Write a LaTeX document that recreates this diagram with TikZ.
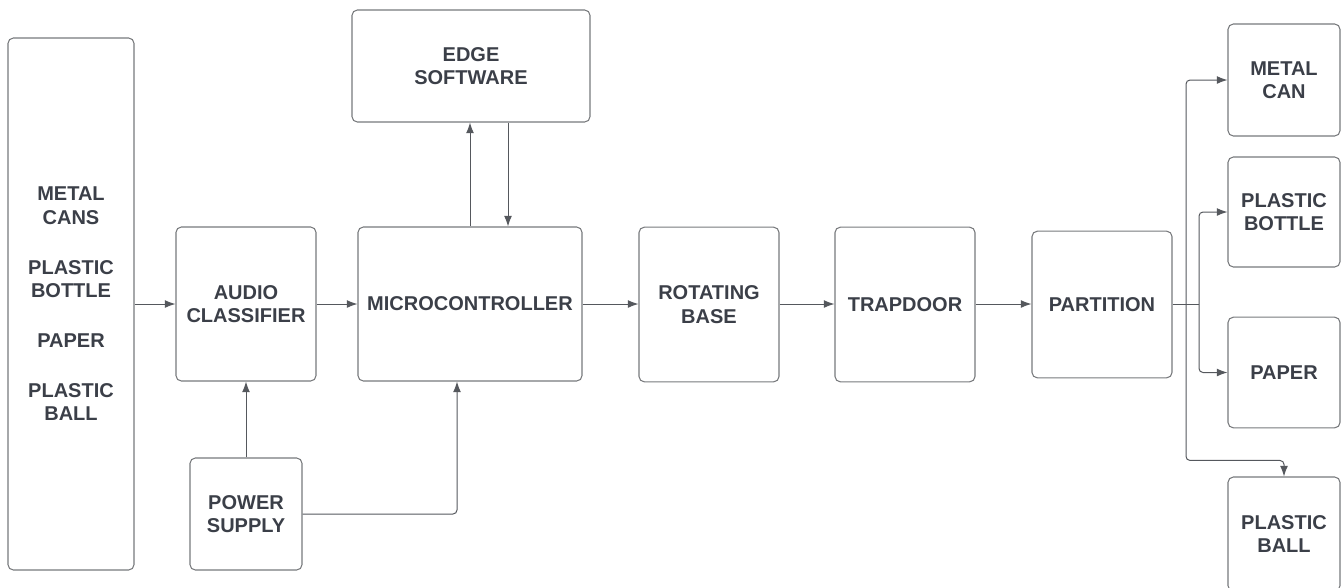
\documentclass[tikz,border=0pt]{standalone}
\usepackage{fontspec}
\setmainfont{Liberation Sans}
\usepackage{xcolor}
\usetikzlibrary{positioning, arrows.meta, calc}

\definecolor{boxgray}{HTML}{77797C}
\definecolor{linegray}{HTML}{55585D}
\definecolor{txtgray}{HTML}{3B3F48}

\begin{document}
\begin{tikzpicture}[x=0.75pt, y=-0.75pt,
    blk/.style={draw=boxgray, line width=0.8pt, rounded corners=4pt, inner sep=0pt,
        align=center, text=txtgray, font=\fontsize{15}{17.5}\selectfont\bfseries},
    line/.style={draw=linegray, line width=0.75pt, rounded corners=3pt},
    arr/.style={line, -{Latex[length=8pt, width=6pt]}}]

        \useasboundingbox (0,0) rectangle (1342,587);

        % Input Box
        \node[blk, minimum width=94.5pt, minimum height=399pt] (inp) at (71,304)
            {METAL\\CANS\\[20pt]PLASTIC\\BOTTLE\\[20pt]PAPER\\[20pt]PLASTIC\\BALL};

        % Main Chain
        \node[blk, minimum width=105pt, minimum height=115.5pt] (aud) at (246,304) {AUDIO\\CLASSIFIER};
        \node[blk, minimum width=84pt, minimum height=84pt] (pwr) at (246,514) {POWER\\SUPPLY};
        \node[blk, minimum width=168pt, minimum height=115.5pt] (mcu) at (470,304) {MICROCONTROLLER};
        \node[blk, minimum width=178.5pt, minimum height=84pt] (edge) at (471,66) {EDGE\\SOFTWARE};
        \node[blk, minimum width=105pt, minimum height=116pt] (rot) at (709,304.5) {ROTATING\\BASE};
        \node[blk, minimum width=105pt, minimum height=116pt] (trap) at (905,304.5) {TRAPDOOR};
        \node[blk, minimum width=105pt, minimum height=110pt] (part) at (1102,304.5) {PARTITION};

        % Output Bins
        \node[blk, minimum width=84pt, minimum height=84pt] (can) at (1284,80) {METAL\\CAN};
        \node[blk, minimum width=84pt, minimum height=82.5pt] (bot) at (1284,212) {PLASTIC\\BOTTLE};
        \node[blk, minimum width=84pt, minimum height=83pt] (pap) at (1284,372.5) {PAPER};
        \node[blk, minimum width=84pt, minimum height=85.5pt] (ball) at (1284,534) {PLASTIC\\BALL};

        % Flow Arrows
        \draw[arr] (inp.east |- aud.west) -- (aud.west);
        \draw[arr] (aud.east) -- (mcu.west);
        \draw[arr] (mcu.east) -- (rot.west |- mcu.east);
        \draw[arr] (rot.east |- mcu.east) -- (trap.west |- mcu.east);
        \draw[arr] (trap.east |- mcu.east) -- (part.west |- mcu.east);

        % Edge Software Link
        \draw[arr] (mcu.north) -- (mcu.north |- edge.south);
        \coordinate (dn) at ($(edge.south)+(37,0)$);
        \draw[arr] (dn) -- (dn |- mcu.north);

        % Power Lines
        \draw[arr] (pwr.north) -- (aud.south);
        \draw[arr] (pwr.east) -| ($(mcu.south)+(-13,0)$);

        % Partition Fan-out
        \coordinate (j1) at (1186,304);
        \coordinate (j2) at (1199,304);
        \draw[line] (part.east |- j1) -- (j2);
        \draw[arr] (j1) |- (can.west);
        \draw[arr] (j1) |- ($(ball.north)+(0,-16)$) -- (ball.north);
        \draw[arr] (j2) |- (bot.west);
        \draw[arr] (j2) |- (pap.west);

\end{tikzpicture}
\end{document}
